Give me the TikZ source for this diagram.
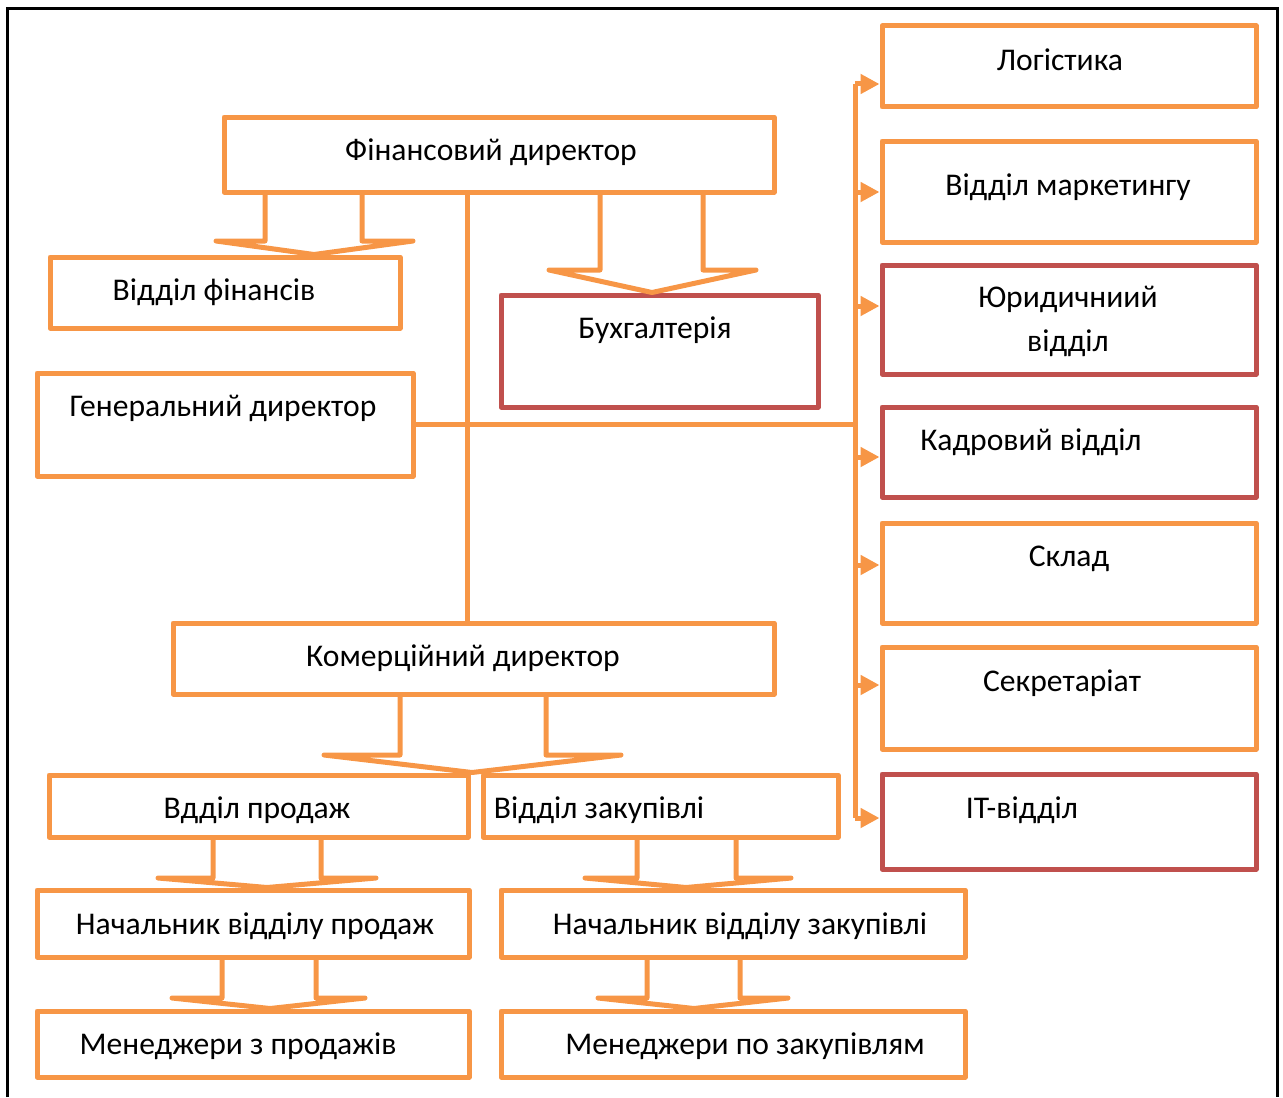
\documentclass[tikz,border=0pt]{standalone}
\usepackage{fontspec}
\setmainfont{Carlito}
\usetikzlibrary{arrows.meta,fit}
\definecolor{orng}{HTML}{F79646}
\definecolor{rd}{HTML}{C0504D}
\tikzset{
  obox/.style={draw=orng, line width=2.5pt, line join=round, inner sep=0pt},
  rbox/.style={draw=rd, line width=2.5pt, line join=round, inner sep=0pt},
  lbl/.style={font=\fontsize{15.8}{18}\selectfont, inner sep=0pt, anchor=center, yshift=-1pt},
  conn/.style={draw=orng, line width=2.5pt},
  busarrow/.style={draw=orng, line width=2.5pt, -{Triangle[length=9.5pt,width=9.5pt]}},
  blk/.style={draw=orng, line width=2.5pt, line join=round, line cap=round},
  frame/.style={draw=black, line width=1.5pt}
}
\begin{document}
\begin{tikzpicture}[x=0.5pt,y=-0.5pt]
\useasboundingbox (0,0) rectangle (1283,1097);
\draw[frame] (7,1097) -- (7,9) -- (1277,9) -- (1277,1097);
% boxes
\node[obox, fit={(224,117) (774,192)}] (fin) {};
\node[obox, fit={(50,257) (400,328)}] (vf) {};
\node[rbox, fit={(501,295) (818,407)}] (buh) {};
\node[obox, fit={(37,373) (413,476)}] (gen) {};
\node[obox, fit={(173,623) (774,694)}] (kom) {};
\node[obox, fit={(49,775) (468,837)}] (vp) {};
\node[obox, fit={(483,775) (838,837)}] (vz) {};
\node[obox, fit={(37,890) (469,957)}] (np) {};
\node[obox, fit={(501,890) (965,957)}] (nz) {};
\node[obox, fit={(37,1011) (469,1077)}] (mp) {};
\node[obox, fit={(501,1011) (965,1077)}] (mz) {};
\node[obox, fit={(882,26) (1256,107)}] (log) {};
\node[obox, fit={(882,141) (1256,242)}] (mark) {};
\node[rbox, fit={(882,265) (1256,374)}] (yur) {};
\node[rbox, fit={(882,407) (1256,497)}] (kadr) {};
\node[obox, fit={(882,523) (1256,623)}] (skl) {};
\node[obox, fit={(882,647) (1256,749)}] (sekr) {};
\node[rbox, fit={(882,774) (1256,869)}] (it) {};
% texts
\node[lbl] (tfin) at (491,150) {Фінансовий директор};
\node[lbl] (tvf) at (214,290) {Відділ фінансів};
\node[lbl] (tbuh) at (655,328) {Бухгалтерія};
\node[lbl] (tgen) at (223,406) {Генеральний директор};
\node[lbl] (tkom) at (463,656) {Комерційний директор};
\node[lbl] (tvp) at (257,808) {Вдділ продаж};
\node[lbl] (tvz) at (599,808) {Відділ закупівлі};
\node[lbl] (tnp) at (255,924) {Начальник відділу продаж};
\node[lbl] (tnz) at (740,924) {Начальник відділу закупівлі};
\node[lbl] (tmp) at (238,1044) {Менеджери з продажів};
\node[lbl] (tmz) at (745,1044) {Менеджери по закупівлям};
\node[lbl] (tlog) at (1060,58) {Логістика};
\node[lbl] (tmark) at (1068,185) {Відділ маркетингу};
\node[lbl] (tyur1) at (1068,297) {Юридичниий};
\node[lbl] (tyur2) at (1068,341) {відділ};
\node[lbl] (tkadr) at (1031,440) {Кадровий відділ};
\node[lbl] (tskl) at (1069,557) {Склад};
\node[lbl] (tsekr) at (1062,681) {Секретаріат};
\node[lbl] (tit) at (1022,808) {IT-відділ};
% connectors
\draw[conn] (fin.south -| 467,0) -- (kom.north -| 467,0);
\coordinate (busTop) at (855,84);
\coordinate (busBot) at (855,818);
\draw[conn] (gen.east) -- (gen.east -| busTop);
\draw[conn, line cap=butt] (busTop) -- (busBot);
\foreach \yy/\tg in {84/log,192/mark,306/yur,457/kadr,565/skl,685/sekr,818/it}{
  \coordinate (s\tg) at (855,\yy);
  \draw[busarrow] (s\tg) -- (s\tg -| \tg.west);
}
% block arrows
\draw[blk] (fin.south -| 265,0) -- (265,241) -- (216,241) -- (vf.north -| 314,0) -- (413,241) -- (362,241) -- (fin.south -| 362,0);
\draw[blk] (fin.south -| 600,0) -- (600,270) -- (549,270) -- (buh.north -| 652,0) -- (756,270) -- (703,270) -- (fin.south -| 703,0);
\draw[blk] (kom.south -| 400,0) -- (400,755) -- (324,755) -- (vp.north -| 472,0) -- (621,755) -- (546,755) -- (kom.south -| 546,0);
\draw[blk] (vp.south -| 213,0) -- (213,878) -- (158,878) -- (np.north -| 267,0) -- (376,878) -- (321,878) -- (vp.south -| 321,0);
\draw[blk] (vz.south -| 637,0) -- (637,878) -- (585,878) -- (nz.north -| 686,0) -- (791,878) -- (736,878) -- (vz.south -| 736,0);
\draw[blk] (np.south -| 222,0) -- (222,998) -- (172,998) -- (mp.north -| 270,0) -- (365,998) -- (316,998) -- (np.south -| 316,0);
\draw[blk] (nz.south -| 647,0) -- (647,998) -- (598,998) -- (mz.north -| 694,0) -- (788,998) -- (740,998) -- (nz.south -| 740,0);
\end{tikzpicture}
\end{document}
